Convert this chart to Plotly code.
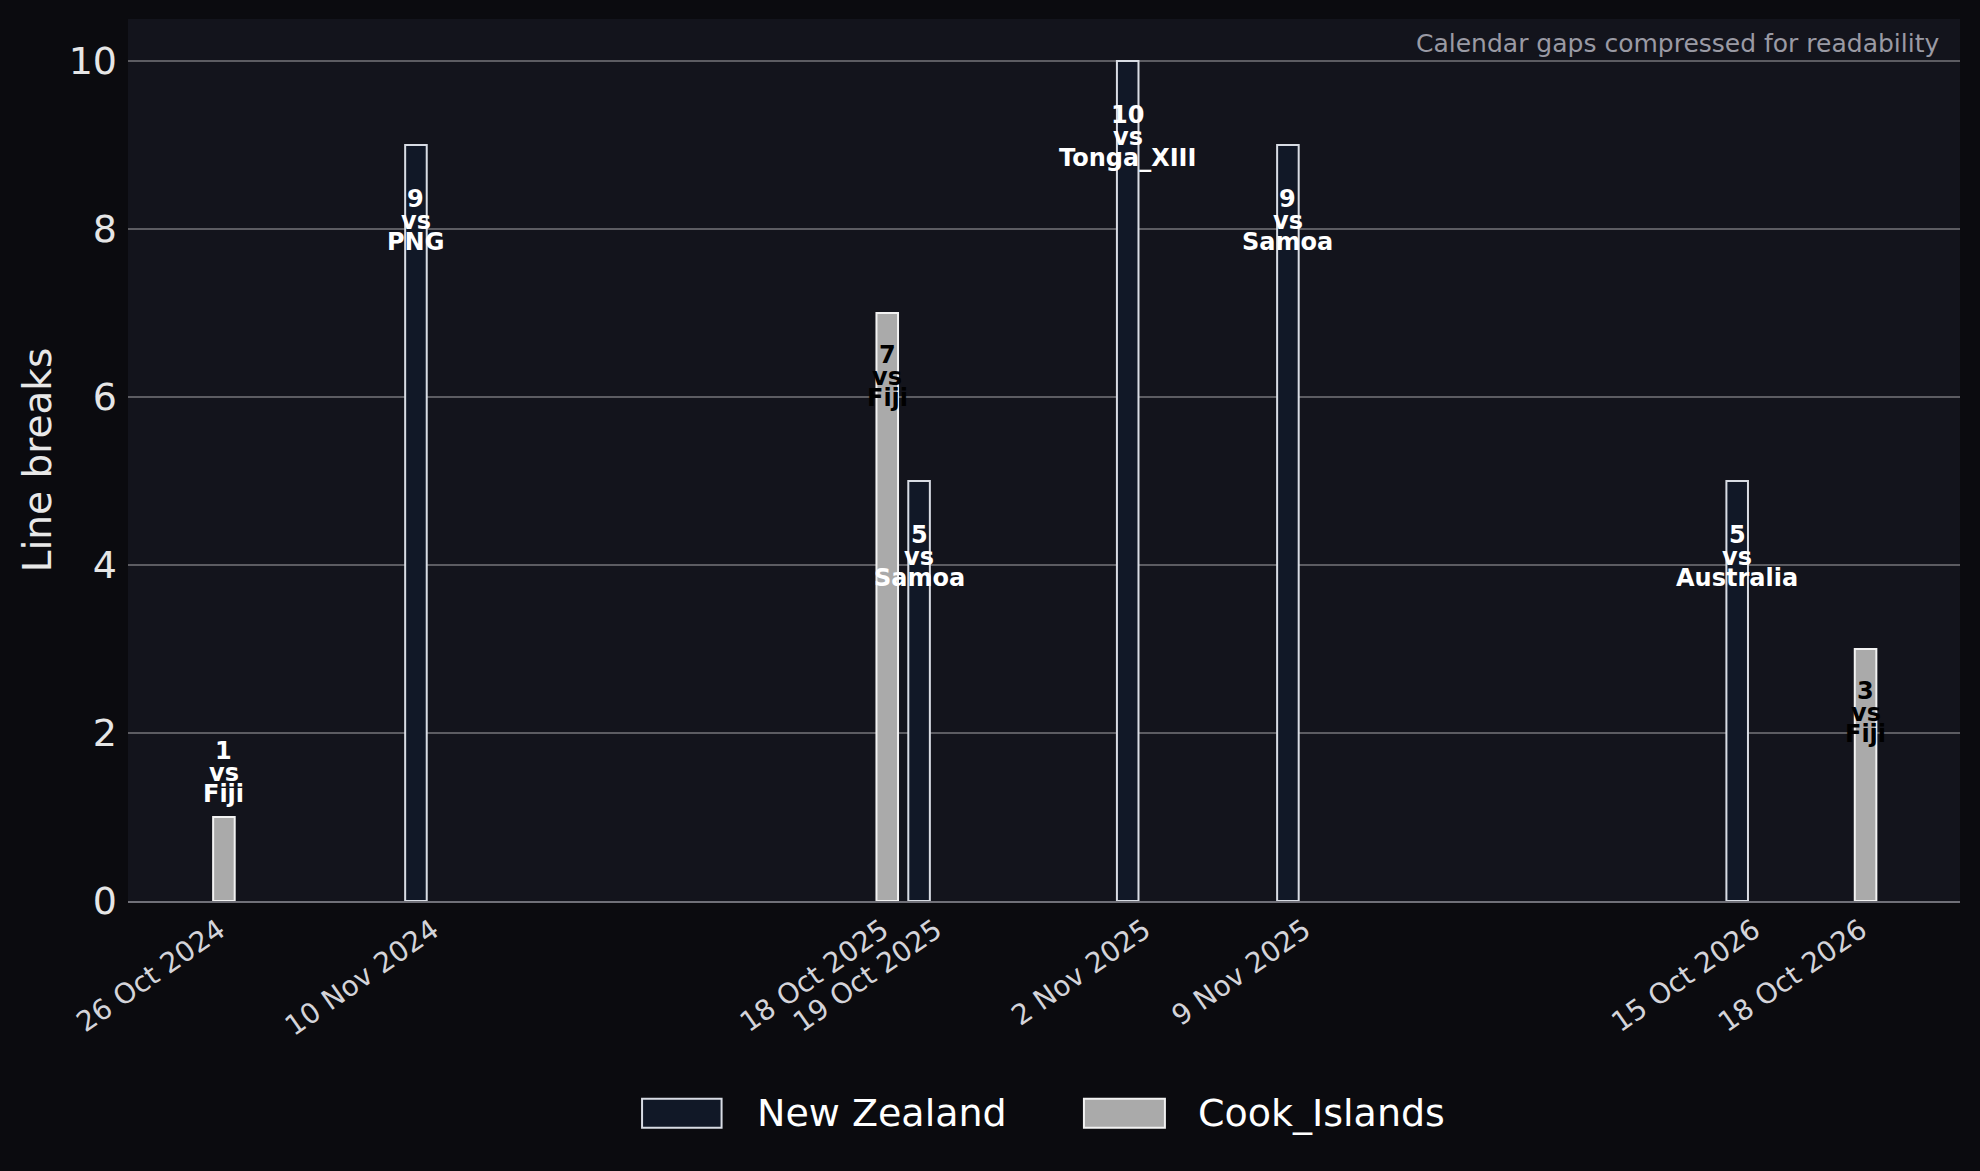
import math
from datetime import date
import plotly.graph_objects as go

# ---- data ----
match_dates = ["26 Oct 2024", "10 Nov 2024", "18 Oct 2025", "19 Oct 2025",
               "2 Nov 2025", "9 Nov 2025", "15 Oct 2026", "18 Oct 2026"]
match_days = [date(2024, 10, 26), date(2024, 11, 10), date(2025, 10, 18), date(2025, 10, 19),
              date(2025, 11, 2), date(2025, 11, 9), date(2026, 10, 15), date(2026, 10, 18)]
teams = ["Cook_Islands", "New Zealand", "Cook_Islands", "New Zealand",
         "New Zealand", "New Zealand", "New Zealand", "Cook_Islands"]
opponents = ["Fiji", "PNG", "Fiji", "Samoa", "Tonga_XIII", "Samoa", "Australia", "Fiji"]
line_breaks = [1, 9, 7, 5, 10, 9, 5, 3]
series_order = ["New Zealand", "Cook_Islands"]

# compressed calendar axis: each gap between matches is shown as log(1 + days)
x_positions = [0.0]
for a, b in zip(match_days[:-1], match_days[1:]):
    x_positions.append(x_positions[-1] + math.log1p((b - a).days))

# ---- styles ----
PAPER = "#0b0b0f"
PLOT = "#13141c"
BAR_W = 0.28
fills = {"New Zealand": "#111827", "Cook_Islands": "#aaaaaa"}
edges = {"New Zealand": "#d8dce4", "Cook_Islands": "#f2f2f2"}
bar_offset = {"New Zealand": -BAR_W, "Cook_Islands": 0.0}
inside_txt = {"New Zealand": "#ffffff", "Cook_Islands": "#000000"}
inside_off = {"New Zealand": [54, 75.7, 97.3], "Cook_Islands": [42, 63.7, 85.3]}
above_off = [-66, -44.3, -22.7]

fig = go.Figure()
for team in series_order:
    xs = [x for x, t in zip(x_positions, teams) if t == team]
    ys = [v for v, t in zip(line_breaks, teams) if t == team]
    fig.add_trace(go.Bar(
        x=xs, y=ys, name=team, width=BAR_W, offset=bar_offset[team],
        marker=dict(color=fills[team], line=dict(color=edges[team], width=2)),
        showlegend=False,
    ))

annotations = []
for x, v, t, opp in zip(x_positions, line_breaks, teams, opponents):
    xc = x + bar_offset[t] + BAR_W / 2
    lines = [str(v), "vs", opp]
    if v >= 2:
        offs = inside_off[t]
        col = inside_txt[t]
    else:
        offs = above_off
        col = "#ffffff"
    for txt, off in zip(lines, offs):
        annotations.append(dict(
            x=xc, y=v, xref="x", yref="y", text=txt, showarrow=False,
            xanchor="center", yanchor="middle", yshift=-off,
            font=dict(family="DejaVu Sans", size=24, color=col, weight="bold"),
        ))

annotations.append(dict(
    x=1, y=0.9723, xref="paper", yref="paper", xanchor="right", yanchor="middle",
    xshift=-19, text="Calendar gaps compressed for readability", showarrow=False,
    font=dict(family="DejaVu Sans", size=25, color="#9a9aa4"),
))

# legend
legend_items = [
    ("New Zealand", 0.2806, 0.324, 0.3422),
    ("Cook_Islands", 0.5218, 0.566, 0.5827),
]
shapes = []
for name, x0, x1, xt in legend_items:
    shapes.append(dict(type="rect", xref="paper", yref="paper", x0=x0, x1=x1,
                       y0=-0.257, y1=-0.2241, fillcolor=fills[name],
                       line=dict(color=edges[name], width=2)))
    annotations.append(dict(x=xt, y=-0.2409, xref="paper", yref="paper",
                            xanchor="left", yanchor="middle", text=name, showarrow=False,
                            font=dict(family="DejaVu Sans", size=38, color="#ffffff")))

fig.update_layout(
    width=1980, height=1171,
    paper_bgcolor=PAPER, plot_bgcolor=PLOT,
    margin=dict(l=128, r=20, t=19, b=270, autoexpand=False),
    barmode="overlay",
    font=dict(family="DejaVu Sans", color="#e6e6e6"),
    annotations=annotations, shapes=shapes,
    showlegend=False,
)
fig.update_xaxes(
    range=[-1.105, 22.675], tickmode="array", tickvals=x_positions, ticktext=match_dates,
    tickangle=-35, tickfont=dict(size=28, color="#d4d4da"), ticklabelshift=6,
    showgrid=False, zeroline=False, showline=True, linecolor="#707078", linewidth=1.5,
    ticks="",
)
fig.update_yaxes(
    range=[0, 10.5], tickmode="array", tickvals=[0, 2, 4, 6, 8, 10],
    tickfont=dict(size=38, color="#e6e6e6"),
    showgrid=True, gridcolor="#5c5c62", gridwidth=2, zeroline=False,
    showline=False, ticks="", ticklabelstandoff=10,
    title=dict(text="Line breaks", font=dict(size=39, color="#e8e8e8"), standoff=4),
)

fig.write_html("out.html")
